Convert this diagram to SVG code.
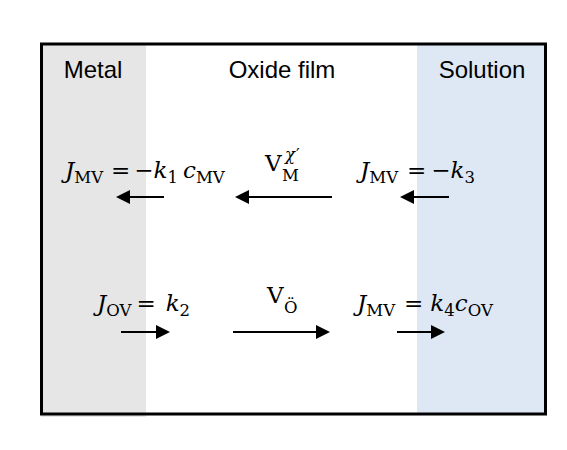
<svg xmlns="http://www.w3.org/2000/svg" width="567" height="450" viewBox="0 0 567 450">
<style>
.lbl{font-family:"Liberation Sans",Arial,sans-serif;font-size:24px;fill:#000;text-anchor:middle}
.m{font-family:"DejaVu Serif","Liberation Serif",serif;font-size:23px;fill:#000}
.i{font-style:italic}
.s{font-size:16.5px}
.arr{stroke:#000;stroke-width:2.2;fill:none;marker-end:url(#ah)}
</style>
<defs>
<marker id="ah" markerUnits="userSpaceOnUse" markerWidth="14" markerHeight="14" refX="4" refY="7" orient="auto">
<path d="M0,0 L14,7 L0,14 z" fill="#000"/>
</marker>
</defs>
<rect width="567" height="450" fill="#fff"/>
<g id="metal">
<rect x="41" y="44" width="105" height="373" fill="#e6e6e6"/>
<text class="lbl" x="93" y="78">Metal</text>
</g>
<g id="solution">
<rect x="417" y="44" width="128" height="370" fill="#dee8f4"/>
<text class="lbl" x="482" y="78">Solution</text>
</g>
<g id="oxide">
<text class="lbl" x="282" y="78">Oxide film</text>
</g>
<rect x="41.5" y="44" width="504" height="370" fill="none" stroke="#000" stroke-width="3"/>
<g id="eq1">
<text class="m" x="65" y="178"><tspan class="i">J</tspan><tspan class="s" dy="5">MV</tspan><tspan dy="-5" dx="8">=</tspan><tspan dx="4">−</tspan><tspan class="i">k</tspan><tspan class="s" dy="5">1</tspan><tspan class="i" dy="-5" dx="5">c</tspan><tspan class="s" dy="5">MV</tspan></text>
</g>
<g id="eq2">
<text class="m" y="171"><tspan x="265">V</tspan><tspan class="s" x="282" y="181">M</tspan><tspan class="s i" x="285" y="160">χ</tspan><tspan class="s" dx="1">′</tspan></text>
</g>
<g id="eq3">
<text class="m" x="360" y="178"><tspan class="i">J</tspan><tspan class="s" dy="5">MV</tspan><tspan dy="-5" dx="9">=</tspan><tspan dx="5">−</tspan><tspan class="i">k</tspan><tspan class="s" dy="5">3</tspan></text>
</g>
<g id="eq4">
<text class="m" x="97" y="311"><tspan class="i">J</tspan><tspan class="s" dy="5">OV</tspan><tspan dy="-5" dx="5">=</tspan><tspan class="i" dx="10">k</tspan><tspan class="s" dy="5">2</tspan></text>
</g>
<g id="eq5">
<text class="m" y="303"><tspan x="267">V</tspan><tspan class="s" x="284" y="313">Ö</tspan></text>
</g>
<g id="eq6">
<text class="m" x="357" y="311"><tspan class="i">J</tspan><tspan class="s" dy="5">MV</tspan><tspan dy="-5" dx="9">=</tspan><tspan class="i" dx="7">k</tspan><tspan class="s" dy="5">4</tspan><tspan class="i" dy="-5">c</tspan><tspan class="s" dy="5">OV</tspan></text>
</g>
<g id="connectors">
<line class="arr" x1="164" y1="197" x2="126" y2="197"/>
<line class="arr" x1="332" y1="197" x2="245" y2="197"/>
<line class="arr" x1="449" y1="197" x2="410" y2="197"/>
<line class="arr" x1="121" y1="332" x2="160" y2="332"/>
<line class="arr" x1="233" y1="332" x2="320" y2="332"/>
<line class="arr" x1="397" y1="332" x2="435" y2="332"/>
</g>
</svg>
